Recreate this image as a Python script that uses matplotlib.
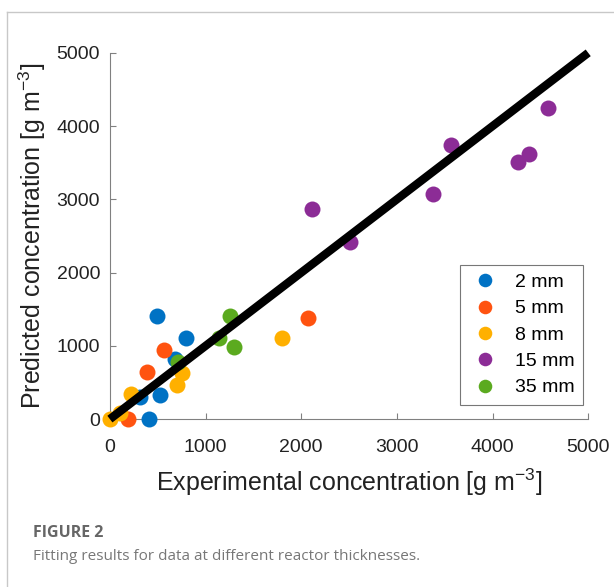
import numpy as np
import matplotlib
matplotlib.use("Agg")
import matplotlib.pyplot as plt
from matplotlib.lines import Line2D

plt.rcParams['font.family'] = ['Liberation Sans', 'DejaVu Sans']

# Data (experimental, predicted) per reactor thickness
labels = ["2 mm", "5 mm", "8 mm", "15 mm", "35 mm"]
colors = ["#0072C4", "#FF5310", "#FFB000", "#8C2C96", "#5BAA1F"]

x_2mm = [493, 797, 681, 524, 314, 409]
y_2mm = [1413, 1114, 815, 326, 299, 0]
x_5mm = [566, 388, 189, 2075]
y_5mm = [937, 639, 0, 1386]
x_8mm = [1803, 755, 702, 220, 105, 0]
y_8mm = [1114, 625, 462, 340, 80, 0]
x_15mm = [2117, 2505, 3375, 3564, 4266, 4382, 4581]
y_15mm = [2867, 2418, 3071, 3736, 3505, 3614, 4253]
x_35mm = [1258, 1143, 1300, 713]
y_35mm = [1413, 1114, 978, 774]

xs = [x_2mm, x_5mm, x_8mm, x_15mm, x_35mm]
ys = [y_2mm, y_5mm, y_8mm, y_15mm, y_35mm]

ticks = [0, 1000, 2000, 3000, 4000, 5000]

fig = plt.figure(figsize=(6.14, 5.87), dpi=100)
ax = fig.add_axes([0.179, 0.286, 0.779, 0.624])

for xv, yv, c, lab in zip(xs, ys, colors, labels):
    ax.plot(xv, yv, 'o', color=c, markersize=11.5, markeredgewidth=0,
            label=lab, clip_on=False, zorder=3)

# 1:1 line
ax.plot([0, 5000], [0, 5000], color='black', linewidth=6, zorder=4,
        solid_capstyle='butt', clip_on=False)

ax.set_xlim(0, 5000)
ax.set_ylim(0, 5000)
ax.set_xticks(ticks)
ax.set_yticks(ticks)
ax.tick_params(direction='in', length=4, color='#808080', labelsize=14,
               labelcolor='#222222')
ax.tick_params(axis='x', pad=14)
ax.tick_params(axis='y', pad=7)
for side in ['top', 'right']:
    ax.spines[side].set_visible(False)
for side in ['left', 'bottom']:
    ax.spines[side].set_color('#808080')
    ax.spines[side].set_linewidth(0.8)

ax.set_xlabel("Experimental concentration [g m$^{\\mathregular{-3}}$]",
              fontsize=18, color='#222222', labelpad=8)
ax.set_ylabel("Predicted concentration [g m$^{\\mathregular{-3}}$]",
              fontsize=18, color='#222222', labelpad=6)

leg = ax.legend(loc='lower right', bbox_to_anchor=(0.99, 0.038), fontsize=14,
                frameon=True, fancybox=False, edgecolor='#555555',
                borderaxespad=0, borderpad=0.45, labelspacing=0.45,
                handletextpad=0.7, handlelength=1.7, markerscale=0.85)
leg.get_frame().set_linewidth(0.8)

# outer frame lines of the figure panel
fig.add_artist(Line2D([7 / 614, 7 / 614], [0, 1 - 12 / 587],
                      transform=fig.transFigure, color='#c8c8c8', lw=1))
fig.add_artist(Line2D([7 / 614, 1], [1 - 12 / 587, 1 - 12 / 587],
                      transform=fig.transFigure, color='#c8c8c8', lw=1))

fig.text(33 / 614, 1 - 533 / 587, "FIGURE 2", family=['Open Sans', 'DejaVu Sans'],
         fontsize=11.5, fontweight='bold', color='#666666', va='center')
fig.text(33 / 614, 1 - 556 / 587,
         "Fitting results for data at different reactor thicknesses.",
         family=['Open Sans', 'DejaVu Sans'], fontsize=11, color='#777777',
         va='center')

fig.savefig("out.png", dpi=100)
